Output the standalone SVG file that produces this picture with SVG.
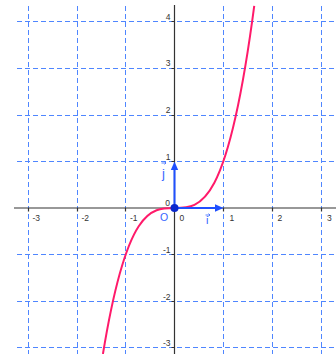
<svg xmlns="http://www.w3.org/2000/svg" width="336" height="354" viewBox="0 0 336 354">
<style>
.grid{stroke:#4f86ff;stroke-width:1;stroke-dasharray:5,3;fill:none}
.axis{stroke:#333;stroke-width:1.2;fill:none}
.tick{font-family:"Liberation Sans",Arial,sans-serif;font-size:8.5px;fill:#333}
.vec{stroke:#1f50ff;stroke-width:2;fill:none}
.head{fill:#1f50ff}
.lbl{font-family:"Liberation Sans",Arial,sans-serif;fill:#3565ff}
</style>
<rect width="336" height="354" fill="#fff"/>
<g id="grid">
<path class="grid" d="M28.5,6V354M77.5,6V354M125.5,6V354M223.5,6V354M272.5,6V354M321.5,6V354"/>
<path class="grid" d="M17,21.5H336M17,68.5H336M17,115.5H336M17,161.5H336M17,254.5H336M17,301.5H336M17,347.5H336"/>
</g>
<g id="axes">
<path class="axis" d="M14,208H336M174.5,5V354"/>
<path class="axis" d="M28.5,208V211.5M77.5,208V211.5M125.5,208V211.5M223.5,208V211.5M272.5,208V211.5M321.5,208V211.5"/>
<path class="axis" d="M171.5,21.5H174.5M171.5,68.5H174.5M171.5,115.5H174.5M171.5,161.5H174.5M171.5,254.5H174.5M171.5,301.5H174.5M171.5,347.5H174.5"/>
</g>
<g id="tick-labels">
<text class="tick" x="170.5" y="19.5" text-anchor="end">4</text>
<text class="tick" x="170.5" y="66" text-anchor="end">3</text>
<text class="tick" x="170.5" y="113" text-anchor="end">2</text>
<text class="tick" x="170.5" y="159.5" text-anchor="end">1</text>
<text class="tick" x="170" y="206" text-anchor="end">0</text>
<text class="tick" x="170.5" y="253" text-anchor="end">-1</text>
<text class="tick" x="170.5" y="299.5" text-anchor="end">-2</text>
<text class="tick" x="170.5" y="346" text-anchor="end">-3</text>
<text class="tick" x="32.5" y="221">-3</text>
<text class="tick" x="81.5" y="221">-2</text>
<text class="tick" x="130" y="221">-1</text>
<text class="tick" x="179.5" y="221">0</text>
<text class="tick" x="229.5" y="221">1</text>
<text class="tick" x="277.5" y="221">2</text>
<text class="tick" x="327" y="221">3</text>
</g>
<g id="curve">
<path d="M102.94,354.01C153.38,45.29 203.81,389.33 254.24,5.92" fill="none" stroke="#ff1a6a" stroke-width="2"/>
</g>
<g id="vector-i">
<path class="vec" d="M174.5,208H216"/>
<path class="head" d="M223.5,208L215,204.3V211.7Z"/>
</g>
<g id="vector-j">
<path class="vec" d="M174.5,208V169"/>
<path class="head" d="M174.5,161.5L170.8,170H178.2Z"/>
</g>
<g id="origin">
<circle cx="174.5" cy="208" r="4" fill="#0a28cc"/>
</g>
<g id="vector-labels">
<text class="lbl" x="164" y="220.5" font-size="10.5" text-anchor="middle">O</text>
<text class="lbl" x="163.5" y="178" font-size="13" text-anchor="middle">j</text>
<path d="M161.5,163H166M164.5,161.6L166,163L164.5,164.4" stroke="#3565ff" stroke-width="0.8" fill="none"/>
<text class="lbl" x="207.3" y="224" font-size="11" text-anchor="middle">i</text>
<path d="M205.5,215H210M208.5,213.6L210,215L208.5,216.4" stroke="#3565ff" stroke-width="0.8" fill="none"/>
</g>
</svg>
